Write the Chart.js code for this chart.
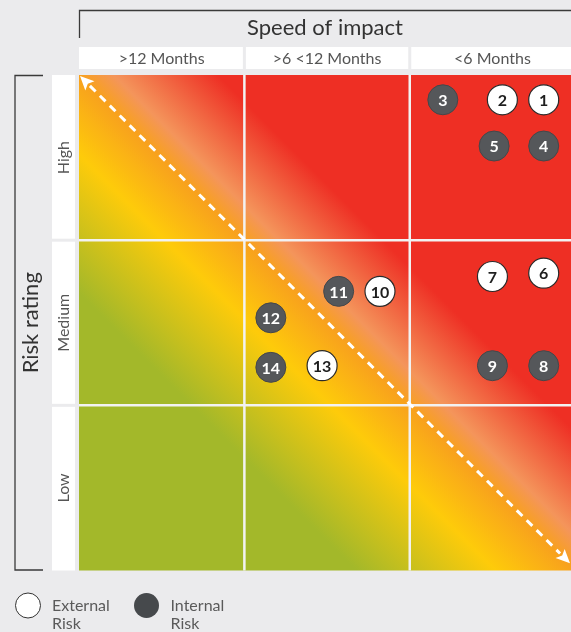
<!DOCTYPE html>
<html>
<head>
<meta charset="utf-8">
<title>Risk matrix</title>
<script src="https://cdn.jsdelivr.net/npm/chart.js@4.4.1/dist/chart.umd.min.js"></script>
<style>
  html, body { margin: 0; padding: 0; background: #ebebed; overflow: hidden; }
</style>
</head>
<body>
<canvas id="riskMatrix" width="571" height="632"></canvas>
<script>
// categories
const columnLabels = [">12 Months", ">6 <12 Months", "<6 Months"];
const rowLabels = ["Low", "Medium", "High"]; // bottom to top
const legendLabels = [["External", "Risk"], ["Internal", "Risk"]];

// risks: number, speed (x, column units), rating (y, row units), source
const riskNumbers = [1, 2, 3, 4, 5, 6, 7, 8, 9, 10, 11, 12, 13, 14];
const riskSpeed = [2.81, 2.56, 2.20, 2.81, 2.51, 2.81, 2.50, 2.81, 2.50, 1.82, 1.57, 1.16, 1.47, 1.16];
const riskRating = [2.85, 2.85, 2.85, 2.57, 2.57, 1.80, 1.78, 1.24, 1.24, 1.69, 1.69, 1.53, 1.24, 1.23];
const riskSource = ["External", "External", "Internal", "Internal", "Internal", "External", "External",
                    "Internal", "Internal", "External", "Internal", "Internal", "External", "Internal"];

function pointsFor(source) {
    return riskNumbers
        .map((n, i) => ({ x: riskSpeed[i], y: riskRating[i], id: n, src: riskSource[i] }))
        .filter(p => p.src === source);
}

const FONT = "Lato, 'Open Sans', sans-serif";

function arrowHead(ctx, tipX, tipY, ux, uy) {
    const len = 14, half = 6.5;
    const bx = tipX - ux * len, by = tipY - uy * len;
    ctx.beginPath();
    ctx.moveTo(tipX, tipY);
    ctx.lineTo(bx - uy * half, by + ux * half);
    ctx.lineTo(bx + ux * 3, by + uy * 3);
    ctx.lineTo(bx + uy * half, by - ux * half);
    ctx.closePath();
    ctx.fill();
}

const matrixPlugin = {
    id: "matrix",
    beforeDraw(chart) {
        const ctx = chart.ctx;
        const area = chart.chartArea;
        const xs = chart.scales.x, ys = chart.scales.y;
        ctx.save();
        ctx.fillStyle = "#ebebed";
        ctx.fillRect(0, 0, chart.width, chart.height);

        // top bracket + title
        ctx.strokeStyle = "#3a3a3a";
        ctx.lineWidth = 1.3;
        ctx.beginPath();
        ctx.moveTo(area.left + 0.5, 38);
        ctx.lineTo(area.left + 0.5, 10.5);
        ctx.lineTo(chart.width, 10.5);
        ctx.stroke();
        ctx.fillStyle = "#333";
        ctx.font = "22px " + FONT;
        ctx.textAlign = "center";
        ctx.textBaseline = "middle";
        ctx.fillText("Speed of impact", (area.left + area.right) / 2, 28);

        // column headers
        ctx.font = "16px " + FONT;
        columnLabels.forEach((label, i) => {
            const l = xs.getPixelForValue(i) + (i ? 1.5 : 0);
            const r = xs.getPixelForValue(i + 1) - 1.5;
            ctx.fillStyle = "#fff";
            ctx.fillRect(l, 47, r - l, 22);
            ctx.fillStyle = "#555";
            ctx.fillText(label, xs.getPixelForValue(i + 0.5), 58.5);
        });

        // row headers
        rowLabels.forEach((label, i) => {
            const b = ys.getPixelForValue(i) - (i ? 1.5 : 0);
            const t = ys.getPixelForValue(i + 1) + (i < 2 ? 1.5 : 0);
            ctx.fillStyle = "#fff";
            ctx.fillRect(52, t, 23, b - t);
            ctx.save();
            ctx.translate(64, ys.getPixelForValue(i + 0.5));
            ctx.rotate(-Math.PI / 2);
            ctx.fillStyle = "#555";
            ctx.fillText(label, 0, 0);
            ctx.restore();
        });

        // left bracket + title
        ctx.strokeStyle = "#3a3a3a";
        ctx.beginPath();
        ctx.moveTo(43, area.top + 0.5);
        ctx.lineTo(15, area.top + 0.5);
        ctx.lineTo(15, area.bottom - 0.5);
        ctx.lineTo(43, area.bottom - 0.5);
        ctx.stroke();
        ctx.save();
        ctx.translate(31, (area.top + area.bottom) / 2);
        ctx.rotate(-Math.PI / 2);
        ctx.fillStyle = "#333";
        ctx.font = "22px " + FONT;
        ctx.fillText("Risk rating", 0, 0);
        ctx.restore();

        // legend
        const legendX = [28, 146.5];
        chart.data.datasets.forEach((ds, i) => {
            ctx.beginPath();
            ctx.arc(legendX[i], 605.5, 12.5, 0, Math.PI * 2);
            ctx.fillStyle = i ? "#46494c" : "#fff";
            ctx.fill();
            if (!i) {
                ctx.strokeStyle = "#333";
                ctx.lineWidth = 1;
                ctx.stroke();
            }
            ctx.fillStyle = "#5a5a5a";
            ctx.font = "16px " + FONT;
            ctx.textAlign = "left";
            ctx.textBaseline = "alphabetic";
            legendLabels[i].forEach((line, j) => {
                ctx.fillText(line, legendX[i] + 24, 611 + j * 17.5);
            });
        });
        ctx.restore();
    },
    beforeDatasetsDraw(chart) {
        const ctx = chart.ctx;
        const area = chart.chartArea;
        const xs = chart.scales.x, ys = chart.scales.y;
        ctx.save();

        // diagonal gradient: colour depends on (x + y)
        const x0 = xs.getPixelForValue(0), y0 = ys.getPixelForValue(0);
        const cw = xs.getPixelForValue(1) - x0, ch = y0 - ys.getPixelForValue(1);
        const gx = 1 / cw, gy = -1 / ch, g2 = gx * gx + gy * gy;
        const grad = ctx.createLinearGradient(x0, y0, x0 + gx * 6 / g2, y0 + gy * 6 / g2);
        grad.addColorStop(0, "#a3b82a");
        grad.addColorStop(0.28, "#a3b82a");
        grad.addColorStop(0.42, "#fecb0a");
        grad.addColorStop(0.50, "#f8a11d");
        grad.addColorStop(0.535, "#f4955b");
        grad.addColorStop(0.64, "#ee2f24");
        grad.addColorStop(1, "#ee2f24");
        ctx.fillStyle = grad;
        ctx.fillRect(area.left, area.top, area.right - area.left, area.bottom - area.top);

        // cell separators
        ctx.strokeStyle = "#f2f2f2";
        ctx.lineWidth = 2.5;
        [1, 2].forEach(v => {
            const px = xs.getPixelForValue(v), py = ys.getPixelForValue(v);
            ctx.beginPath();
            ctx.moveTo(px, area.top);
            ctx.lineTo(px, area.bottom);
            ctx.moveTo(area.left, py);
            ctx.lineTo(area.right, py);
            ctx.stroke();
        });

        // dashed diagonal with arrows
        const sx = xs.getPixelForValue(xs.min) + 1, sy = ys.getPixelForValue(ys.max) + 1;
        const ex = xs.getPixelForValue(xs.max) - 1, ey = ys.getPixelForValue(ys.max - xs.max) - 3;
        const dx = ex - sx, dy = ey - sy, d = Math.hypot(dx, dy);
        const ux = dx / d, uy = dy / d;
        ctx.strokeStyle = "#fff";
        ctx.fillStyle = "#fff";
        ctx.lineWidth = 3;
        ctx.setLineDash([8, 6]);
        ctx.beginPath();
        ctx.moveTo(sx + ux * 14, sy + uy * 14);
        ctx.lineTo(ex - ux * 14, ey - uy * 14);
        ctx.stroke();
        ctx.setLineDash([]);
        arrowHead(ctx, sx, sy, -ux, -uy);
        arrowHead(ctx, ex, ey, ux, uy);
        ctx.restore();
    },
    afterDatasetsDraw(chart) {
        const ctx = chart.ctx;
        ctx.save();
        ctx.font = "bold 16px " + FONT;
        ctx.textAlign = "center";
        ctx.textBaseline = "middle";
        chart.data.datasets.forEach((ds, di) => {
            const meta = chart.getDatasetMeta(di);
            ctx.fillStyle = di ? "#ffffff" : "#1e1e1e";
            meta.data.forEach((pt, i) => {
                ctx.fillText(String(ds.data[i].id), pt.x, pt.y + 1);
            });
        });
        ctx.restore();
    }
};

const riskChart = new Chart(document.getElementById("riskMatrix"), {
    type: "scatter",
    data: {
        datasets: [
            {
                label: "External Risk",
                data: pointsFor("External"),
                backgroundColor: "#ffffff",
                borderColor: "#2a2a2a",
                borderWidth: 1.2,
                pointRadius: 15
            },
            {
                label: "Internal Risk",
                data: pointsFor("Internal"),
                backgroundColor: "#55575a",
                borderColor: "#45474a",
                borderWidth: 1,
                pointRadius: 15
            }
        ]
    },
    options: {
        responsive: false,
        animation: false,
        events: [],
        devicePixelRatio: 1,
        layout: {
            autoPadding: false,
            padding: { left: 79, top: 75, right: 0, bottom: 61.5 }
        },
        plugins: {
            legend: { display: false },
            tooltip: { enabled: false }
        },
        scales: {
            x: { type: "linear", min: 0, max: 2.975, display: false },
            y: { type: "linear", min: 0, max: 3, display: false }
        }
    },
    plugins: [matrixPlugin]
});
</script>
</body>
</html>
